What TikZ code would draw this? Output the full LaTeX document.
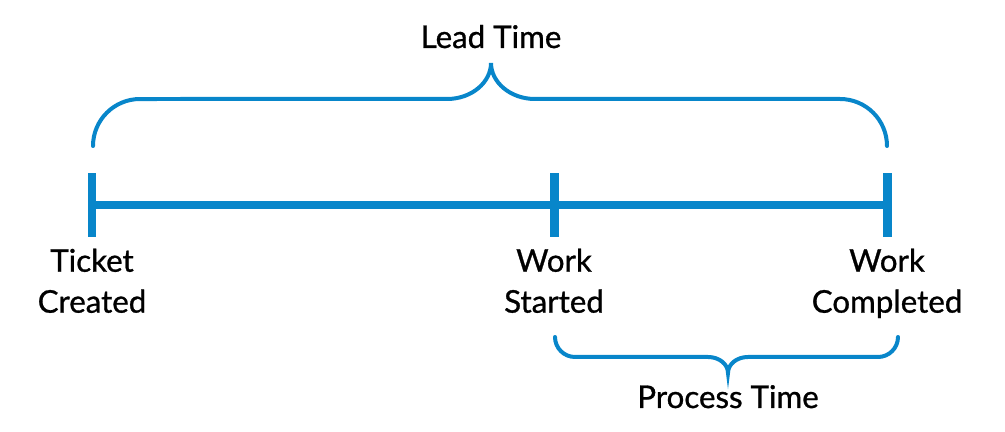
\documentclass[tikz,border=0pt]{standalone}
\usepackage{fontspec}
\setmainfont{Lato}[FakeBold=0.9]
\usepackage{xcolor}
\usepackage{tikz}
\usetikzlibrary{positioning}

\definecolor{leadblue}{RGB}{8,134,202}

\begin{document}
\begin{tikzpicture}[x=0.02cm, y=0.02cm, node distance=0.22cm, font=\fontsize{17.8}{23.3}\selectfont]
    \tikzstyle{tick} = [rectangle, fill=leadblue, inner sep=0pt, minimum width=0.18cm, minimum height=1.28cm]
    \tikzstyle{timeline} = [line width=0.16cm, draw=leadblue]
    \tikzstyle{brace} = [line width=0.08cm, draw=leadblue, line cap=round]
    \tikzstyle{event} = [align=center, inner sep=0pt, text=black]
    \tikzstyle{caption} = [inner sep=0pt, anchor=base, text=black]

    \useasboundingbox (0,0) rectangle (1005,432);

    % ticks on the time line
    \node (ticket) [tick] at (92,227) {};
    \node (started) [tick] at (554,227) {};
    \node (completed) [tick] at (887,227) {};

    \draw [timeline] (ticket.center) -- (completed.center);

    \node (ticketlbl) [event, below=of ticket] {Ticket\\Created};
    \node (startedlbl) [event, below=of started] {Work\\Started};
    \node (completedlbl) [event, below=of completed] {Work\\Completed};

    % lead time brace
    \draw [brace] (93,286) arc[start angle=180, end angle=90, radius=0.94cm] -- (447,333)
        .. controls (472,333) and (491,350) .. (491,369)
        .. controls (491,350) and (510,333) .. (535,333) -- (840,333)
        arc[start angle=90, end angle=0, radius=0.94cm];
    \node (lead) [caption] at (491,384) {Lead Time};

    % process time brace
    \draw [brace] (555,95) arc[start angle=180, end angle=270, radius=0.4cm] -- (708,75)
        .. controls (719,75) and (728,68) .. (728,59)
        .. controls (728,68) and (737,75) .. (748,75) -- (878,75)
        arc[start angle=270, end angle=360, radius=0.4cm];
    \node (process) [caption] at (728,24) {Process Time};
\end{tikzpicture}
\end{document}
